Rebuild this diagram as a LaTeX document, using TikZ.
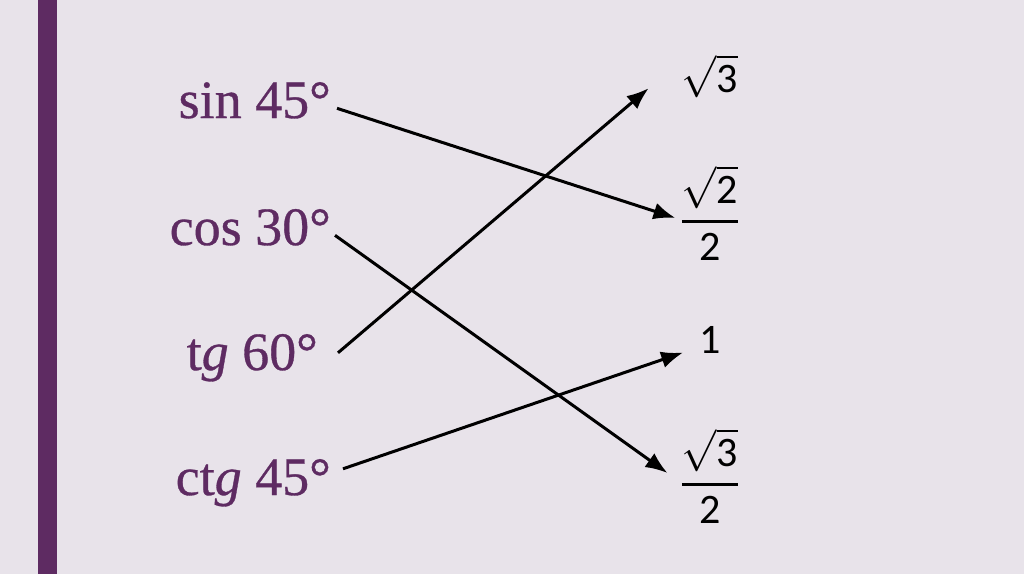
\documentclass[tikz,border=0pt]{standalone}
\usepackage{fix-cm}
\usepackage{amsmath}
\usepackage{fontspec}
\setmainfont{Liberation Serif}
\newfontfamily\funcfont[FakeBold=0.6]{Liberation Serif}
\newfontfamily\numfont{Carlito}
\usepackage{tikz}
\usetikzlibrary{arrows.meta}

\definecolor{slidebg}{HTML}{E8E3EA}
\definecolor{plum}{HTML}{5E2B62}

\tikzset{
  func/.style={text=plum, inner sep=0pt, anchor=base east,
    font=\fontsize{54}{62}\selectfont\funcfont},
  val/.style={text=black, inner sep=0pt,
    font=\fontsize{42}{50}\selectfont\numfont},
  match/.style={line width=3pt, -{Latex[length=22pt,width=17pt]}}
}
\newcommand{\rootfrac}[2]{$\genfrac{}{}{3pt}{0}{\sqrt{\hbox{#1}}}{\hbox{#2}}$}

\begin{document}
\begin{tikzpicture}[x=1pt, y=-1pt]
    % background and side bar
    \fill[slidebg] (0,0) rectangle (1024,574);
    \useasboundingbox (0,0) rectangle (1024,574);
    \fill[plum] (38,0) rectangle (57,574);

    % left column
    \node[func] (sin) at (331,118) {sin 45°};
    \node[func] (cos) at (331,245) {cos 30°};
    \node[func] (tg)  at (318,370) {t\textit{g} 60°};
    \node[func] (ctg) at (331,495) {ct\textit{g} 45°};

    % right column
    \node[val, anchor=base] (r3) at (710,92) {$\sqrt{\hbox{3}}$};
    \node[val] (s22) at (710,213) {\rootfrac{2}{2}};
    \node[val, anchor=base] (one) at (710,353) {1};
    \node[val] (s32) at (710,476) {\rootfrac{3}{2}};

    % matching arrows
    \draw[match] ([shift={(6,8)}]sin.east) -- ([shift={(-5,5)}]s22.west);
    \draw[match] ([shift={(4,8)}]cos.east) -- ([shift={(-13,-3)}]s32.west);
    \draw[match] ([shift={(20,-5)}]tg.east) -- ([shift={(-33,12)}]r3.west);
    \draw[match] ([shift={(12,-14)}]ctg.east) -- ([shift={(-16,13)}]one.west);
\end{tikzpicture}
\end{document}
